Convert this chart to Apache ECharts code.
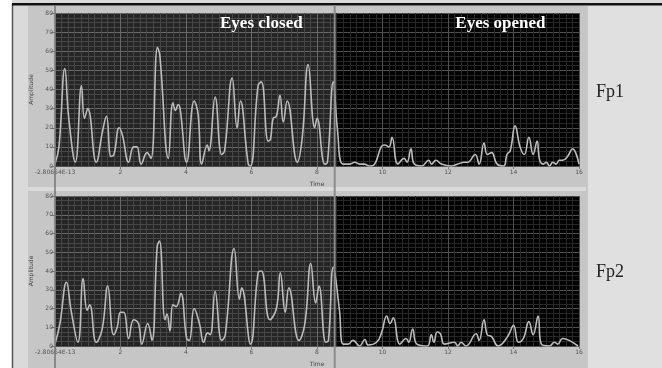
<!DOCTYPE html>
<html>
<head>
<meta charset="utf-8">
<script src="https://cdn.jsdelivr.net/npm/echarts@6/dist/echarts.min.js"></script>
<style>
  html, body { margin: 0; padding: 0; background: #fff; }
  #chart { width: 662px; height: 368px; }
</style>
</head>
<body>
<div id="chart"></div>
<script>
// time (s), amplitude
const fp1 = [
  [0,1],[0.12,10],[0.30,51],[0.42,25],[0.62,2],[0.81,42],[0.90,25],[1.0,30],[1.26,2],[1.45,18],
  [1.57,26],[1.71,5],[1.80,6],[1.96,20],[2.06,16],[2.25,2],[2.40,10],[2.50,10],[2.63,1],[2.81,7],
  [2.93,4],[3.13,62],[3.20,58],[3.46,4],[3.60,33],[3.68,29],[3.76,32],[3.82,30],[4.02,2],[4.25,34],
  [4.37,27],[4.48,1],[4.65,11],[4.70,8],[4.89,36],[5.09,6],[5.18,8],[5.41,46],[5.56,20],[5.66,34],
  [5.90,1],[5.97,0],[6.20,42],[6.30,44],[6.51,13],[6.58,14],[6.66,25],[6.76,26],[6.87,37],[6.97,23],
  [7.09,34],[7.40,2],[7.55,15],[7.73,53],[7.93,20],[8.00,25],[8.24,1],[8.32,2],[8.50,44],[8.62,20],
  [8.79,1],[9.0,1],[9.15,2],[9.3,1],[9.45,1],[9.6,0],[9.76,1],[9.96,10],[10.06,11],[10.2,10],
  [10.29,15],[10.47,1],[10.66,4],[10.75,2],[10.87,9],[10.97,1],[11.2,0],[11.41,3],[11.5,1],[11.63,3],
  [11.80,1],[12.1,0],[12.3,1],[12.5,2],[12.6,2],[12.83,6],[12.95,1],[13.1,12],[13.2,6],[13.33,7],
  [13.5,1],[13.7,0],[13.8,6],[13.9,8],[14.05,21],[14.2,10],[14.33,6],[14.47,15],[14.6,6],[14.72,13],
  [14.8,3],[14.92,1],[15.0,2],[15.1,0],[15.2,2],[15.3,1],[15.4,3],[15.5,3],[15.65,5],[15.8,9],[16,1]
];
const fp2 = [
  [0,1],[0.15,12],[0.35,34],[0.50,18],[0.70,2],[0.86,36],[0.98,19],[1.06,22],[1.26,2],[1.44,9],
  [1.61,32],[1.79,6],[1.9,10],[2.0,18],[2.1,18],[2.25,4],[2.4,14],[2.55,12],[2.65,1],[2.83,12],
  [2.96,3],[3.12,53],[3.19,56],[3.36,14],[3.42,17],[3.51,8],[3.6,22],[3.70,21],[3.84,28],[4.02,4],
  [4.1,3],[4.25,20],[4.41,12],[4.54,2],[4.66,7],[4.74,6],[4.89,29],[5.09,3],[5.2,6],[5.47,52],
  [5.63,25],[5.70,31],[5.97,1],[6.20,39],[6.30,40],[6.56,14],[6.76,20],[6.88,39],[7.03,18],[7.14,31],
  [7.45,3],[7.63,12],[7.81,44],[7.96,23],[8.06,32],[8.27,2],[8.35,3],[8.50,42],[8.68,20],[8.8,1],
  [8.95,1],[9.1,3],[9.3,0],[9.46,3.5],[9.56,0.5],[9.82,2],[9.97,7],[10.13,16],[10.23,12],[10.33,15],
  [10.53,1],[10.72,4],[10.8,2],[10.92,9],[11.05,1],[11.37,0],[11.49,6],[11.57,2],[11.67,7.5],[11.77,6.5],
  [11.89,1],[12.2,2],[12.3,0],[12.4,2],[12.55,0],[12.86,6.5],[12.95,3],[13.1,14],[13.2,6],[13.33,5],
  [13.53,0],[13.82,5],[14.0,11],[14.15,2],[14.3,4],[14.47,13],[14.6,6],[14.75,16],[14.85,1],[15.1,0],
  [15.25,2],[15.35,1],[15.5,4],[15.7,3],[15.97,0]
];
const channels = ["Fp1", "Fp2"];
const phases = ["Eyes closed", "Eyes opened"];
const splitTime = 8.54;
const zeroLabel = "-2.80664E-13";

const chart = echarts.init(document.getElementById("chart"));

const grids = [
  { left: 55, top: 13, width: 524, height: 153 },
  { left: 55, top: 196, width: 524, height: 153 }
];

const xAxisFor = (i) => ({
  type: "value",
  gridIndex: i,
  min: 0,
  max: 16,
  interval: 2,
  name: "Time",
  nameLocation: "middle",
  nameGap: 15,
  nameTextStyle: { fontSize: 6, color: "#444", fontFamily: "DejaVu Sans" },
  axisLine: { show: false },
  axisTick: { show: true, inside: false, length: 3, lineStyle: { color: "#777" } },
  axisLabel: {
    fontSize: 6, color: "#555", margin: 3, fontFamily: "DejaVu Sans",
    formatter: (v) => (v === 0 ? zeroLabel : String(v))
  },
  splitLine: { show: true, lineStyle: { color: "#505050", width: 1 } },
  minorTick: { show: false, splitNumber: 10 },
  minorSplitLine: { show: true, lineStyle: { color: "#282828", width: 1 } }
});

const yAxisFor = (i) => ({
  type: "value",
  gridIndex: i,
  min: 0,
  max: 80,
  interval: 10,
  name: "Amplitude",
  nameLocation: "middle",
  nameGap: 17,
  nameTextStyle: { fontSize: 6, color: "#444", fontFamily: "DejaVu Sans" },
  axisLine: { show: false },
  axisTick: { show: true, length: 4, lineStyle: { color: "#777" } },
  axisLabel: { fontSize: 6, color: "#555", margin: 2, fontFamily: "DejaVu Sans" },
  splitLine: { show: true, lineStyle: { color: "#505050", width: 1 } },
  minorTick: { show: false, splitNumber: 4 },
  minorSplitLine: { show: true, lineStyle: { color: "#282828", width: 1 } }
});

const seriesFor = (i, data) => ({
  type: "line",
  xAxisIndex: i,
  yAxisIndex: i,
  data: data,
  smooth: 0.45,
  showSymbol: false,
  lineStyle: { color: "#bcbcbc", width: 1.6 },
  markArea: {
    silent: true,
    itemStyle: { color: "rgba(255,255,255,0.14)" },
    data: [[{ xAxis: 0 }, { xAxis: splitTime }]]
  }
});

const option = {
  animation: false,
  backgroundColor: "#dadada",
  grid: grids.map((g) => Object.assign({ show: true, backgroundColor: "#020202", borderWidth: 0 }, g)),
  xAxis: [xAxisFor(0), xAxisFor(1)],
  yAxis: [yAxisFor(0), yAxisFor(1)],
  series: [seriesFor(0, fp1), seriesFor(1, fp2)]
};

chart.setOption(option);

// decorations: panel frames, cursor lines, captions
const xSplit = chart.convertToPixel({ xAxisIndex: 0 }, splitTime);
const xZero = chart.convertToPixel({ xAxisIndex: 0 }, 0);
const xC = chart.convertToPixel({ xAxisIndex: 0 }, 6.3);
const xO = chart.convertToPixel({ xAxisIndex: 0 }, 13.6);

chart.setOption({
  graphic: [
    { type: "rect", z: -10, shape: { x: 0, y: 0, width: 12, height: 368 }, style: { fill: "#ffffff" } },
    { type: "rect", z: -9, shape: { x: 28, y: 6, width: 558, height: 181 }, style: { fill: "#c6c6c6" } },
    { type: "rect", z: -9, shape: { x: 28, y: 191, width: 558, height: 177 }, style: { fill: "#c6c6c6" } },
    { type: "rect", z: -9, shape: { x: 587, y: 6, width: 75, height: 362 }, style: { fill: "#e0e0e0" } },
    { type: "line", z: 5, shape: { x1: 587, y1: 6, x2: 587, y2: 368 }, style: { stroke: "#b0b0b0", lineWidth: 1 } },
    { type: "line", z: 5, shape: { x1: 12.5, y1: 4, x2: 12.5, y2: 368 }, style: { stroke: "#555", lineWidth: 1.5 } },
    { type: "rect", z: 5, shape: { x: 12, y: 3, width: 650, height: 2.5 }, style: { fill: "#111" } },
    { type: "line", z: 100, shape: { x1: xZero, y1: 5, x2: xZero, y2: 368 }, style: { stroke: "#7a7a7a", lineWidth: 1.6 } },
    { type: "line", z: 100, shape: { x1: xSplit, y1: 5, x2: xSplit, y2: 368 }, style: { stroke: "#8c8c8c", lineWidth: 2 } },
    { type: "text", z: 100, x: xC, y: 24, style: { text: phases[0], fill: "#fff", font: "bold 17px 'Liberation Serif'", align: "center", verticalAlign: "middle" } },
    { type: "text", z: 100, x: xO, y: 24, style: { text: phases[1], fill: "#fff", font: "bold 17px 'Liberation Serif'", align: "center", verticalAlign: "middle" } },
    { type: "text", z: 100, x: 610, y: 92, style: { text: channels[0], fill: "#222", font: "18px 'Liberation Serif'", align: "center", verticalAlign: "middle" } },
    { type: "text", z: 100, x: 610, y: 272, style: { text: channels[1], fill: "#222", font: "18px 'Liberation Serif'", align: "center", verticalAlign: "middle" } }
  ]
});
</script>
</body>
</html>
